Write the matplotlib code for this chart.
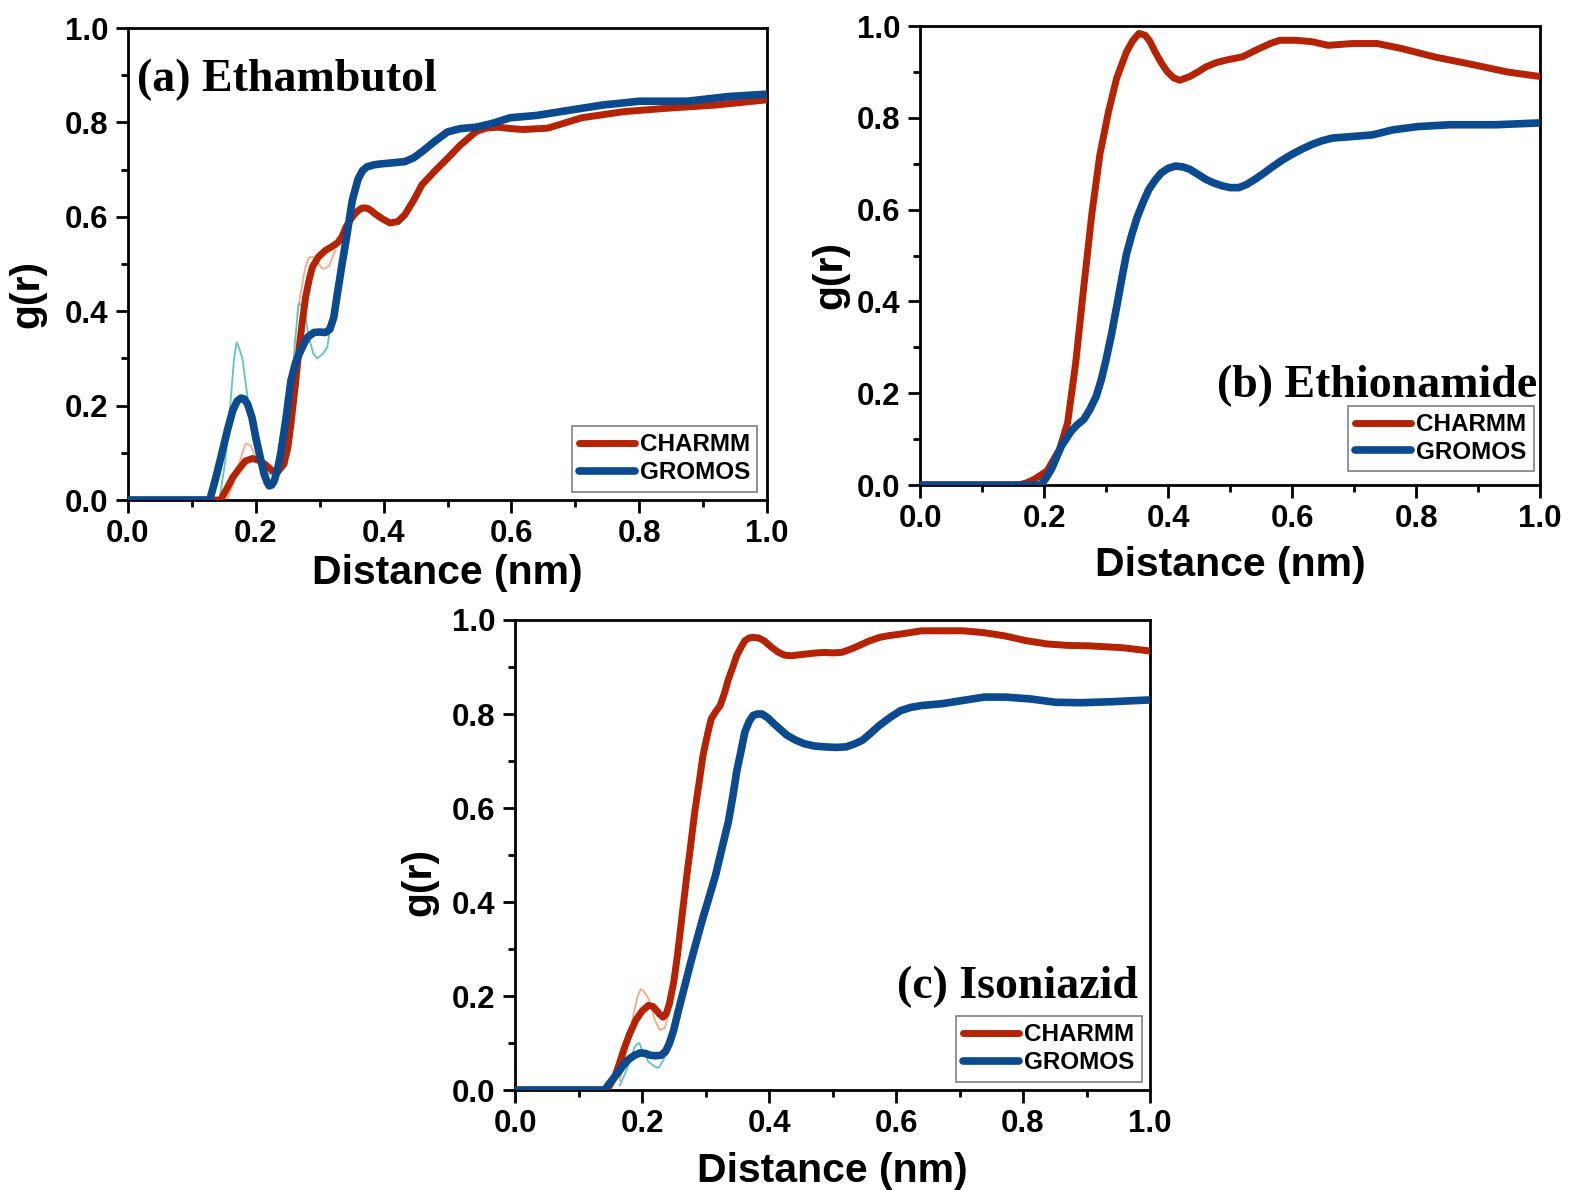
import matplotlib
matplotlib.use("Agg")
import matplotlib.pyplot as plt
from matplotlib.ticker import MultipleLocator

plt.rcParams['font.family'] = ['Liberation Sans', 'DejaVu Sans']

RED = '#b52302'
BLUE = '#0b4a8e'
RAW_RED = '#f7a98a'
RAW_BLUE = '#5fc3c3'

# ---- (a) Ethambutol ----
a_charmm_x = [0.0, 0.10, 0.13, 0.145, 0.155, 0.164, 0.175, 0.184, 0.195, 0.205, 0.215, 0.226, 0.234,
              0.244, 0.25, 0.255, 0.262, 0.268, 0.273, 0.278, 0.284, 0.289, 0.298, 0.309, 0.318, 0.328, 0.335, 0.341,
              0.348, 0.354, 0.36, 0.365, 0.37, 0.375, 0.381, 0.387, 0.398, 0.41, 0.422, 0.433, 0.447, 0.46, 0.48,
              0.50, 0.52, 0.545, 0.56, 0.578, 0.60, 0.618, 0.657, 0.71, 0.776, 0.842, 0.92, 1.0]
a_charmm_y = [0.0, 0.0, 0.0, 0.0, 0.025, 0.048, 0.068, 0.083, 0.088, 0.084, 0.075, 0.062, 0.059,
              0.076, 0.11, 0.161, 0.245, 0.324, 0.38, 0.43, 0.47, 0.495, 0.515, 0.529, 0.536, 0.545, 0.558, 0.578,
              0.594, 0.605, 0.613, 0.618, 0.619, 0.618, 0.613, 0.606, 0.596, 0.587, 0.59, 0.604, 0.635, 0.668, 0.697,
              0.724, 0.752, 0.781, 0.788, 0.79, 0.787, 0.785, 0.788, 0.81, 0.823, 0.83, 0.837, 0.848]
a_gromos_x = [0.0, 0.10, 0.128, 0.138, 0.148, 0.156, 0.164, 0.171, 0.177, 0.182, 0.187, 0.194,
              0.2, 0.207, 0.213, 0.218, 0.221, 0.225, 0.229, 0.234, 0.239, 0.247, 0.255,
              0.262, 0.268, 0.275, 0.281, 0.291, 0.300, 0.309, 0.316, 0.322, 0.328, 0.335,
              0.343, 0.351, 0.36, 0.367, 0.374, 0.384, 0.394, 0.41, 0.433, 0.447, 0.46,
              0.48, 0.50, 0.52, 0.545, 0.57, 0.598, 0.64, 0.677, 0.743, 0.80, 0.875, 0.94, 1.0]
a_gromos_y = [0.0, 0.0, 0.0, 0.05, 0.105, 0.15, 0.19, 0.21, 0.216, 0.214, 0.204, 0.175,
              0.133, 0.09, 0.055, 0.037, 0.03, 0.032, 0.041, 0.065, 0.098, 0.17, 0.253,
              0.29, 0.31, 0.33, 0.345, 0.355, 0.356, 0.355, 0.362, 0.387, 0.44, 0.50,
              0.565, 0.635, 0.68, 0.698, 0.706, 0.71, 0.712, 0.714, 0.717, 0.725, 0.738,
              0.76, 0.78, 0.787, 0.79, 0.798, 0.81, 0.815, 0.823, 0.837, 0.845, 0.845, 0.855, 0.86]
# raw (unsmoothed) traces, drawn as separate visible pieces
a_charmm_raw1_x = [0.155, 0.165, 0.174, 0.18, 0.184, 0.188, 0.192, 0.197, 0.202]
a_charmm_raw1_y = [0.0, 0.035, 0.076, 0.105, 0.119, 0.118, 0.115, 0.1, 0.083]
a_charmm_raw2_x = [0.265, 0.27, 0.277, 0.283, 0.289, 0.294, 0.299, 0.304, 0.31, 0.315, 0.32, 0.325]
a_charmm_raw2_y = [0.39, 0.437, 0.49, 0.514, 0.515, 0.514, 0.5, 0.49, 0.492, 0.497, 0.515, 0.53]
a_gromos_raw_x = [0.143, 0.152, 0.16, 0.166, 0.170, 0.174, 0.179, 0.183, 0.187, 0.195, 0.205,
                  0.213, 0.221, 0.236, 0.244, 0.25, 0.255, 0.261, 0.267, 0.275, 0.283, 0.29,
                  0.296, 0.305, 0.312, 0.317, 0.322]
a_gromos_raw_y = [0.0, 0.08, 0.2, 0.3, 0.334, 0.322, 0.3, 0.26, 0.218, 0.133, 0.083,
                  0.066, 0.055, 0.055, 0.076, 0.13, 0.204, 0.33, 0.417, 0.41, 0.345, 0.31,
                  0.3, 0.31, 0.324, 0.373, 0.387]

# ---- (b) Ethionamide ----
b_charmm_x = [0.0, 0.10, 0.159, 0.172, 0.185, 0.205, 0.225, 0.238, 0.251, 0.264, 0.277, 0.29,
              0.304, 0.317, 0.333, 0.343, 0.353, 0.363, 0.371, 0.379, 0.389, 0.399, 0.409,
              0.419, 0.435, 0.448, 0.461, 0.477, 0.494, 0.52, 0.547, 0.565, 0.58, 0.606,
              0.632, 0.658, 0.698, 0.737, 0.777, 0.829, 0.895, 0.947, 1.0]
b_charmm_y = [0.0, 0.0, 0.0, 0.005, 0.013, 0.031, 0.078, 0.136, 0.266, 0.431, 0.59, 0.72,
              0.814, 0.886, 0.944, 0.968, 0.984, 0.98, 0.966, 0.944, 0.92, 0.90, 0.887,
              0.882, 0.89, 0.90, 0.911, 0.92, 0.926, 0.933, 0.951, 0.962, 0.969, 0.969,
              0.966, 0.958, 0.962, 0.962, 0.951, 0.933, 0.915, 0.90, 0.89]
b_gromos_x = [0.0, 0.10, 0.195, 0.203, 0.212, 0.228, 0.244, 0.254, 0.264, 0.274, 0.284, 0.292,
              0.30, 0.309, 0.317, 0.325, 0.333, 0.342, 0.35, 0.36, 0.369, 0.379, 0.389,
              0.40, 0.412, 0.424, 0.435, 0.448, 0.461, 0.474, 0.487, 0.50, 0.514, 0.527,
              0.54, 0.553, 0.566, 0.582, 0.599, 0.616, 0.632, 0.648, 0.665, 0.704, 0.73,
              0.763, 0.803, 0.855, 0.928, 1.0]
b_gromos_y = [0.0, 0.0, 0.0, 0.015, 0.035, 0.085, 0.118, 0.132, 0.143, 0.165, 0.193, 0.228,
              0.273, 0.33, 0.388, 0.447, 0.504, 0.548, 0.583, 0.617, 0.644, 0.664, 0.68,
              0.69, 0.695, 0.693, 0.688, 0.677, 0.666, 0.658, 0.652, 0.648, 0.648, 0.655,
              0.666, 0.678, 0.691, 0.706, 0.72, 0.732, 0.742, 0.75, 0.756, 0.76, 0.763,
              0.774, 0.781, 0.785, 0.785, 0.789]

# ---- (c) Isoniazid ----
c_charmm_x = [0.0, 0.10, 0.144, 0.15, 0.157, 0.164, 0.171, 0.18, 0.19, 0.20, 0.21, 0.217,
              0.223, 0.228, 0.233, 0.238, 0.243, 0.25, 0.256, 0.263, 0.27, 0.277, 0.283,
              0.29, 0.296, 0.303, 0.309, 0.316, 0.323, 0.33, 0.336, 0.343, 0.349, 0.356,
              0.362, 0.369, 0.375, 0.383, 0.392, 0.403, 0.415, 0.425, 0.435, 0.448, 0.461,
              0.475, 0.488, 0.50, 0.514, 0.527, 0.541, 0.557, 0.574, 0.59, 0.607, 0.64,
              0.673, 0.706, 0.739, 0.772, 0.805, 0.838, 0.87, 0.904, 0.957, 1.0]
c_charmm_y = [0.0, 0.0, 0.0, 0.012, 0.028, 0.055, 0.085, 0.118, 0.148, 0.168, 0.18, 0.178,
              0.169, 0.161, 0.155, 0.162, 0.183, 0.23, 0.289, 0.37, 0.451, 0.525, 0.592,
              0.655, 0.712, 0.756, 0.79, 0.805, 0.818, 0.845, 0.874, 0.9, 0.924, 0.942,
              0.956, 0.962, 0.963, 0.962, 0.956, 0.943, 0.931, 0.925, 0.924, 0.926, 0.928,
              0.93, 0.931, 0.93, 0.931, 0.937, 0.945, 0.955, 0.963, 0.967, 0.97, 0.977,
              0.977, 0.977, 0.973, 0.966, 0.956, 0.949, 0.946, 0.945, 0.941, 0.934]
c_gromos_x = [0.0, 0.10, 0.141, 0.151, 0.161, 0.169, 0.177, 0.187, 0.197, 0.205, 0.213, 0.221,
              0.23, 0.237, 0.243, 0.25, 0.256, 0.266, 0.276, 0.286, 0.296, 0.306, 0.316,
              0.326, 0.336, 0.343, 0.349, 0.356, 0.362, 0.369, 0.375, 0.382, 0.389, 0.398,
              0.408, 0.418, 0.428, 0.441, 0.455, 0.471, 0.488, 0.505, 0.521, 0.534, 0.547,
              0.56, 0.574, 0.59, 0.607, 0.623, 0.64, 0.673, 0.706, 0.739, 0.772, 0.812,
              0.851, 0.891, 0.937, 1.0]
c_gromos_y = [0.0, 0.0, 0.0, 0.018, 0.035, 0.05, 0.063, 0.073, 0.079, 0.078, 0.074, 0.073,
              0.074, 0.082, 0.099, 0.128, 0.162, 0.215, 0.268, 0.318, 0.367, 0.412, 0.458,
              0.515, 0.571, 0.625, 0.677, 0.722, 0.762, 0.785, 0.797, 0.80, 0.80, 0.792,
              0.779, 0.767, 0.755, 0.745, 0.737, 0.732, 0.73, 0.729, 0.73, 0.736, 0.744,
              0.759, 0.776, 0.792, 0.807, 0.814, 0.818, 0.822, 0.829, 0.836, 0.836, 0.832,
              0.825, 0.824, 0.826, 0.83]
c_charmm_raw_x = [0.165, 0.175, 0.185, 0.193, 0.198, 0.202, 0.208, 0.213, 0.22, 0.228, 0.236, 0.242]
c_charmm_raw_y = [0.02, 0.08, 0.15, 0.2, 0.215, 0.211, 0.2, 0.185, 0.149, 0.128, 0.132, 0.165]
c_gromos_raw_x = [0.165, 0.175, 0.183, 0.188, 0.192, 0.196, 0.2, 0.205, 0.21, 0.215, 0.22, 0.226, 0.232, 0.238]
c_gromos_raw_y = [0.01, 0.04, 0.07, 0.09, 0.098, 0.1, 0.085, 0.075, 0.06, 0.055, 0.05, 0.047, 0.06, 0.075]

panels = [
    dict(pos=[0.0812, 0.5798, 0.4055, 0.3966], title='(a) Ethambutol',
         tpos=(0.014, 0.866), ha='left',
         charmm=(a_charmm_x, a_charmm_y), gromos=(a_gromos_x, a_gromos_y),
         raw_red=[(a_charmm_raw1_x, a_charmm_raw1_y), (a_charmm_raw2_x, a_charmm_raw2_y)],
         raw_blue=[(a_gromos_raw_x, a_gromos_raw_y)],
         leg=(0.985, 0.018), ylab=(-0.128, 0.436), xpad=3),
    dict(pos=[0.5838, 0.5924, 0.3934, 0.3857], title='(b) Ethionamide',
         tpos=(0.995, 0.192), ha='right',
         charmm=(b_charmm_x, b_charmm_y), gromos=(b_gromos_x, b_gromos_y),
         raw_red=[], raw_blue=[], leg=(0.99, 0.03), ylab=(-0.114, 0.457), xpad=8),
    dict(pos=[0.3268, 0.084, 0.4029, 0.395], title='(c) Isoniazid',
         tpos=(0.981, 0.196), ha='right',
         charmm=(c_charmm_x, c_charmm_y), gromos=(c_gromos_x, c_gromos_y),
         raw_red=[(c_charmm_raw_x, c_charmm_raw_y)], raw_blue=[(c_gromos_raw_x, c_gromos_raw_y)],
         leg=(0.987, 0.018), ylab=(-0.12, 0.443), xpad=9),
]

fig = plt.figure(figsize=(15.76, 11.9), dpi=100)

for p in panels:
    ax = fig.add_axes(p['pos'])
    for xs, ys in p['raw_red']:
        ax.plot(xs, ys, color=RAW_RED, lw=1.3, zorder=2)
    for xs, ys in p['raw_blue']:
        ax.plot(xs, ys, color=RAW_BLUE, lw=1.3, zorder=2)
    ax.plot(*p['charmm'], color=RED, lw=5, label='CHARMM', zorder=3,
            solid_joinstyle='round', solid_capstyle='round')
    ax.plot(*p['gromos'], color=BLUE, lw=5.5, label='GROMOS', zorder=4,
            solid_joinstyle='round', solid_capstyle='round')

    ax.set_xlim(0, 1.0)
    ax.set_ylim(0, 1.0)
    ax.xaxis.set_major_locator(MultipleLocator(0.2))
    ax.xaxis.set_minor_locator(MultipleLocator(0.1))
    ax.yaxis.set_major_locator(MultipleLocator(0.2))
    ax.yaxis.set_minor_locator(MultipleLocator(0.1))
    ax.xaxis.set_major_formatter(lambda v, pos: f'{v:.1f}')
    ax.yaxis.set_major_formatter(lambda v, pos: f'{v:.1f}')
    ax.tick_params(which='both', direction='out', top=False, right=False, width=2)
    ax.tick_params(which='major', length=9, labelsize=22.5, pad=5)
    ax.tick_params(which='minor', length=5)
    for lab in ax.get_xticklabels() + ax.get_yticklabels():
        lab.set_fontweight('bold')
    for s in ax.spines.values():
        s.set_linewidth(2)

    ax.set_xlabel('Distance (nm)', fontsize=29.5, fontweight='bold', labelpad=p['xpad'])
    ax.set_ylabel('g(r)', fontsize=29.5, fontweight='bold')
    ax.yaxis.set_label_coords(*p['ylab'])

    ax.text(p['tpos'][0], p['tpos'][1], p['title'], transform=ax.transAxes,
            ha=p['ha'], va='baseline', fontsize=33, fontweight='bold',
            family=['Liberation Serif', 'DejaVu Serif'], zorder=5)

    leg = ax.legend(loc='lower right', bbox_to_anchor=p['leg'], borderaxespad=0,
                    fancybox=False, framealpha=1, edgecolor='#808080',
                    prop={'weight': 'bold', 'size': 17.5}, handlelength=2.3,
                    handletextpad=0.2, borderpad=0.3, labelspacing=0.2)
    leg.get_frame().set_linewidth(1.2)

fig.savefig('out.png', dpi=100, facecolor='white')
